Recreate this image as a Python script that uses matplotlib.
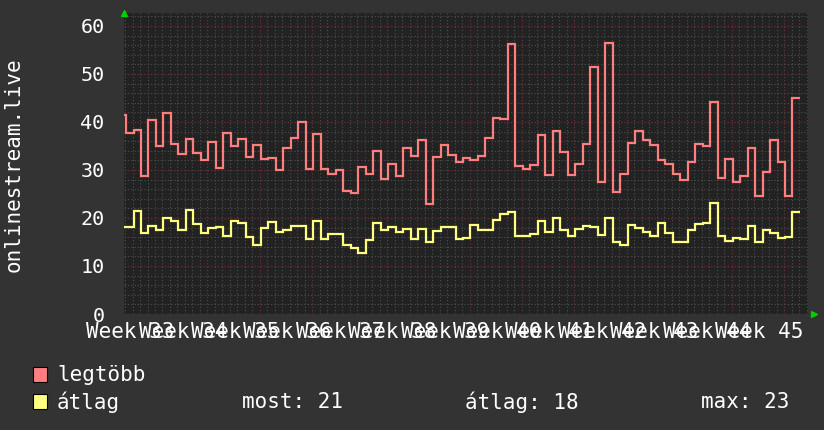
import numpy as np
import matplotlib.pyplot as plt
from matplotlib.patches import Rectangle
from matplotlib.transforms import blended_transform_factory

# daily values, first step starts a bit before the Week 33 line
legtobb = [41.5, 37.8, 38.3, 28.75, 40.4, 35, 41.9, 35.5, 33.4, 36.4,
           33.6, 32.1, 35.9, 30.5, 37.6, 35, 36.5, 32.6, 35.1, 32.2,
           32.4, 29.9, 34.5, 36.7, 39.9, 30.3, 37.5, 30.3, 29.2, 30,
           25.6, 25.3, 30.7, 29.2, 34, 28.2, 31.3, 28.75, 34.5, 32.9,
           36.25, 22.9, 32.7, 35.2, 33.1, 31.7, 32.4, 32, 32.9, 36.7,
           40.8, 40.7, 56.25, 30.8, 30.3, 31.1, 37.3, 29, 38.2, 33.8,
           29, 31.3, 35.4, 51.5, 27.4, 56.5, 25.4, 29.2, 35.7, 38.2,
           36.2, 35.3, 32, 31.3, 29.2, 27.9, 31.7, 35.5, 35, 44.2,
           28.4, 32.2, 27.4, 28.8, 34.5, 24.5, 29.6, 36.3, 31.7, 24.6,
           44.9]
atlag = [18.2, 18.2, 21.5, 16.8, 18.3, 17.4, 19.9, 19.4, 17.4, 21.7,
         18.7, 16.8, 17.9, 18.1, 16.3, 19.4, 19.0, 16.0, 14.4, 18.0,
         19.2, 17.1, 17.5, 18.4, 18.4, 15.6, 19.4, 15.6, 16.6, 16.6,
         14.4, 13.7, 12.8, 15.5, 19.0, 17.4, 18.2, 17.0, 17.7, 15.6,
         17.7, 14.9, 17.3, 18.1, 18.1, 15.7, 15.9, 18.6, 17.6, 17.6,
         19.6, 20.8, 21.25, 16.3, 16.3, 16.6, 19.4, 17.0, 20.0, 17.6,
         16.25, 17.7, 18.3, 18.1, 16.5, 19.9, 14.9, 14.4, 18.5, 18.0,
         17.1, 16.2, 19.0, 16.8, 14.9, 14.9, 17.4, 18.8, 19.0, 23.2,
         16.25, 15.3, 15.8, 15.6, 18.4, 15.1, 17.5, 16.9, 15.9, 16.0,
         21.25]
weeks = list(range(33, 46))
week_labels = ['Week %d' % w for w in weeks]
data_start = -4.87  # days, relative to the Week 33 line

BG = '#333333'
PLOT_BG = '#222222'
mono = 'DejaVu Sans Mono'

fig = plt.figure(figsize=(8.24, 4.30), dpi=100, facecolor=BG)
ax = fig.add_axes([124/824, 1-314/430, 684/824, 301/430])
ax.set_facecolor(PLOT_BG)

edges = data_start + np.arange(len(legtobb) + 1)
ax.stairs(legtobb, edges, color='#ff7f7f', linewidth=1.6, baseline=None)
ax.stairs(atlag, edges, color='#ffff80', linewidth=1.6, baseline=None)

week_pos = [7 * (w - 33) for w in weeks]
ax.set_xlim(-4.14, 87.2)
ax.set_ylim(0, 62.7)
ax.set_xticks(week_pos)
ax.set_xticks(np.arange(-4, 88), minor=True)
ax.set_yticks(range(0, 61, 10))
ax.set_yticks(range(0, 63, 2), minor=True)
ax.grid(True, which='minor', color='#505050', linestyle=(0, (1, 2)), linewidth=0.8)
ax.grid(True, which='major', color='#703838', linestyle=(0, (1, 2)), linewidth=0.8)
ax.set_axisbelow(True)
for s in ax.spines.values():
    s.set_visible(False)
ax.tick_params(axis='both', which='both', length=0)
ax.tick_params(axis='x', labelbottom=False)
ax.tick_params(axis='y', pad=14, labelsize=14.5, labelcolor='white')
for lab in ax.get_yticklabels():
    lab.set_family(mono)

trans = blended_transform_factory(ax.transData, ax.transAxes)
for p, lab in zip(week_pos, week_labels):
    ax.text(p - 3.3, -0.08, lab, transform=trans, ha='center', va='baseline',
            color='white', fontsize=15, family=mono, clip_on=False)

# green axis arrows
ax.plot([0], [1.0], transform=ax.transAxes, marker='^', color='#00d000',
        markersize=5, clip_on=False)
ax.plot([1.0085], [0], transform=ax.transAxes, marker='>', color='#00d000',
        markersize=5, clip_on=False)

fig.text(14/824, 1-165/430, 'onlinestream.live', rotation=90, ha='center',
         va='center', color='white', fontsize=15, family=mono)

fig.patches.append(Rectangle((33/824, 1-382/430), 14/824, 15/430,
                             transform=fig.transFigure, facecolor='#ff7f7f',
                             edgecolor='black', linewidth=0.8))
fig.patches.append(Rectangle((33/824, 1-409/430), 14/824, 15/430,
                             transform=fig.transFigure, facecolor='#ffff80',
                             edgecolor='black', linewidth=0.8))
fig.text(57/824, 1-375/430, 'legtöbb', color='white', fontsize=15,
         family=mono, va='center')
fig.text(57/824, 1-402/430, 'átlag', color='white', fontsize=15,
         family=mono, va='center')
fig.text(242/824, 1-402/430, 'most: 21', color='white', fontsize=15,
         family=mono, va='center')
fig.text(465/824, 1-402/430, 'átlag: 18', color='white', fontsize=15,
         family=mono, va='center')
fig.text(701/824, 1-402/430, 'max: 23', color='white', fontsize=15,
         family=mono, va='center')

fig.savefig('out.png', dpi=100, facecolor=BG)
